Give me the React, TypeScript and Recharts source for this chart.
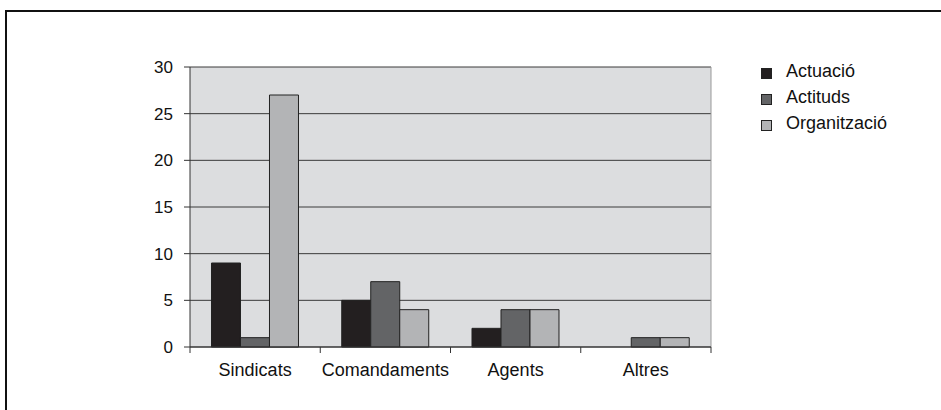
import { BarChart, Bar, XAxis, YAxis, CartesianGrid, Legend } from 'recharts';

const categories = ['Sindicats', 'Comandaments', 'Agents', 'Altres'];
const actuacio = [9, 5, 2, 0];
const actituds = [1, 7, 4, 1];
const organitzacio = [27, 4, 4, 1];
const yTicks = [0, 5, 10, 15, 20, 25, 30];

const series = [
  { key: 'actuacio', name: 'Actuació', color: '#231f20' },
  { key: 'actituds', name: 'Actituds', color: '#636466' },
  { key: 'organitzacio', name: 'Organització', color: '#b3b4b6' },
];

const data = categories.map((c, i) => ({
  name: c,
  actuacio: actuacio[i],
  actituds: actituds[i],
  organitzacio: organitzacio[i],
}));

const font = '"Liberation Sans", Arial, Helvetica, sans-serif';

const W = 941;
const H = 410;
const margin = { top: 67, right: 230, bottom: 23, left: 0 };
const yAxisWidth = 190;
const plotRight = W - margin.right;
const band = (plotRight - yAxisWidth) / categories.length;

const LegendBox = () => (
  <div style={{ fontFamily: font, fontSize: 18, color: '#111' }}>
    {series.map(s => (
      <div key={s.key} style={{ display: 'flex', alignItems: 'center', height: 26 }}>
        <span style={{ width: 9, height: 9, background: s.color, border: '1px solid #222', marginRight: 14, marginTop: 4 }} />
        <span>{s.name}</span>
      </div>
    ))}
  </div>
);

// label in the middle, tick marks on the category boundaries
const CategoryTick = (props: any) => {
  const { x, y, payload, index, visibleTicksCount } = props;
  const top = y - 16;
  const left = x - band / 2;
  const last = index === visibleTicksCount - 1;
  return (
    <g>
      <line x1={left} x2={left} y1={top} y2={top + 6} stroke="#333" />
      {last && <line x1={left + band} x2={left + band} y1={top} y2={top + 6} stroke="#333" />}
      <text x={x} y={y} dy="0.71em" textAnchor="middle" fill="#111" fontSize={18} fontFamily={font}>
        {payload.value}
      </text>
    </g>
  );
};

export default function App() {
  return (
    <div style={{ position: 'absolute', left: 0, top: 0, width: W, height: H, background: '#fff', overflow: 'hidden' }}>
      <div style={{ position: 'absolute', left: 5, top: 10, width: 1000, height: 500, borderTop: '2px solid #111', borderLeft: '2px solid #111' }} />
      <BarChart
        width={W}
        height={H}
        data={data}
        margin={margin}
        barCategoryGap="16.5%"
        barGap={0}
      >
        <CartesianGrid vertical={false} stroke="#3a3a3a" fill="#dcdddf" fillOpacity={1} />
        <CartesianGrid horizontal={false} verticalPoints={[plotRight]} stroke="#999" />
        <XAxis
          dataKey="name"
          height={40}
          interval={0}
          axisLine={{ stroke: '#333' }}
          tickLine={false}
          tickSize={6}
          tickMargin={10}
          tick={<CategoryTick />}
        />
        <YAxis
          domain={[0, 30]}
          ticks={yTicks}
          width={yAxisWidth}
          axisLine={{ stroke: '#333' }}
          tickLine={{ stroke: '#333' }}
          tickSize={6}
          tickMargin={11}
          tick={{ fill: '#111', fontSize: 17, fontFamily: font }}
        />
        <Legend
          layout="horizontal"
          verticalAlign="middle"
          align="center"
          content={<LegendBox />}
          wrapperStyle={{ left: 761, top: 58, width: 180 }}
        />
        {series.map(s => (
          <Bar
            key={s.key}
            dataKey={s.key}
            name={s.name}
            fill={s.color}
            stroke="#222"
            strokeWidth={1}
            isAnimationActive={false}
          />
        ))}
      </BarChart>
    </div>
  );
}
